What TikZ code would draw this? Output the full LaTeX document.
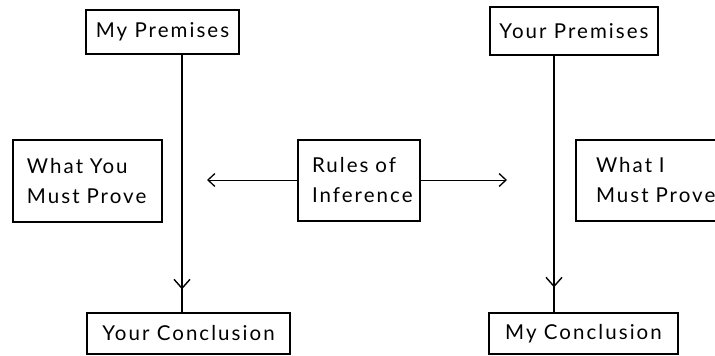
\documentclass[tikz,border=0pt]{standalone}
\usepackage{fontspec}
\setmainfont{Lato}[LetterSpace=10]
\usetikzlibrary{arrows.meta,decorations.markings}
\begin{document}
\begin{tikzpicture}[x=1pt,y=-1pt,
  every node/.style={font=\fontsize{20.5}{30}\selectfont},
  box/.style={draw,line width=1.4pt,rectangle,inner sep=0pt,align=center},
  mbox/.style={draw,line width=1.4pt,rectangle,inner ysep=0pt,align=left},
  conn/.style={line width=1.4pt},
  hconn/.style={line width=1pt},
  tip/.style={-{Straight Barb[length=7pt,width=13pt,line width=1.3pt]}},
  midtip/.style={postaction={decorate},decoration={markings,
     mark=at position #1 with {\arrow{Straight Barb[length=9pt,width=16pt,line width=1.4pt]}}}}
]
\clip (0,0) rectangle (715,356);
\node[box,minimum width=153pt,minimum height=44pt] (myprem) at (162.5,32) {My Premises};
\node[box,minimum width=168pt,minimum height=48pt] (yourprem) at (574,31) {Your Premises};
\node[mbox,inner xsep=14pt,text width=121pt,minimum height=82pt] (whatyou) at (87.5,181) {What You\\Must Prove};
\node[mbox,inner xsep=14pt,text width=94pt,minimum height=81pt] (rules) at (359,180.5) {Rules of\\Inference};
\node[mbox,inner xsep=20pt,text width=140pt,minimum height=81pt] (whati) at (666,180.5) {What I\\Must Prove};
\node[box,minimum width=203pt,minimum height=41pt] (yourconc) at (188.5,333.5) {Your Conclusion};
\node[box,minimum width=189pt,minimum height=41pt] (myconc) at (583.5,333.5) {My Conclusion};
\coordinate (lx) at (182,0);
\coordinate (rx) at (554,0);
\coordinate (ltip) at (207,180);
\coordinate (rtip) at (507,180);
\draw[conn,midtip=0.911] (lx |- myprem.south) -- (lx |- yourconc.north);
\draw[conn,midtip=0.903] (rx |- yourprem.south) -- (rx |- myconc.north);
\draw[hconn,tip] (rules.west |- ltip) -- (ltip);
\draw[hconn,tip] (rules.east |- rtip) -- (rtip);
\end{tikzpicture}
\end{document}
